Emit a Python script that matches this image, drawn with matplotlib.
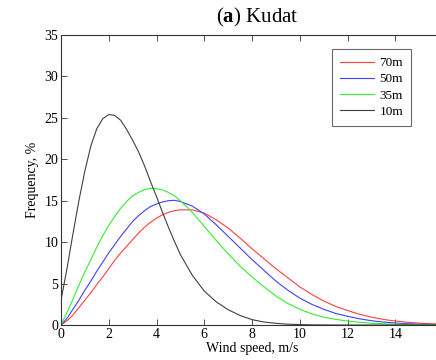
import matplotlib
matplotlib.use("Agg")
import matplotlib.pyplot as plt

plt.rcParams['font.family'] = ['Liberation Serif', 'DejaVu Serif']
plt.rcParams['mathtext.fontset'] = 'custom'
plt.rcParams['mathtext.rm'] = 'Liberation Serif'
plt.rcParams['mathtext.bf'] = 'Liberation Serif:bold'

wind_speed = [0, 0.25, 0.5, 0.75, 1, 1.25, 1.5, 1.75, 2, 2.25, 2.5, 2.75, 3, 3.25,
              3.5, 3.75, 4, 4.25, 4.5, 4.75, 5, 5.5, 6, 6.5, 7, 7.5, 8, 8.5, 9,
              9.5, 10, 10.5, 11, 11.5, 12, 12.5, 13, 13.5, 14, 14.5, 15, 15.5, 16]

freq_70m = [0, 0.5, 1.2, 2.1, 3.0, 3.9, 4.9, 5.8, 6.8, 7.8, 8.7, 9.5, 10.3, 11.1,
            11.8, 12.4, 12.9, 13.3, 13.6, 13.8, 13.9, 13.9, 13.5, 12.7, 11.7, 10.5,
            9.2, 8.0, 6.8, 5.7, 4.6, 3.7, 2.9, 2.25, 1.75, 1.3, 0.95, 0.68, 0.48,
            0.33, 0.22, 0.15, 0.1]
freq_50m = [0, 0.8, 1.9, 3.0, 4.2, 5.3, 6.5, 7.6, 8.7, 9.7, 10.7, 11.6, 12.5, 13.2,
            13.8, 14.3, 14.6, 14.85, 15.0, 15.05, 14.9, 14.35, 13.4, 12.1, 10.7, 9.3,
            7.9, 6.6, 5.3, 4.2, 3.25, 2.5, 1.9, 1.4, 1.05, 0.75, 0.52, 0.36, 0.24,
            0.16, 0.1, 0.06, 0.04]
freq_35m = [0, 1.5, 3.1, 4.8, 6.4, 7.9, 9.4, 10.8, 12.0, 13.1, 14.1, 14.9, 15.6, 16.0,
            16.35, 16.5, 16.45, 16.3, 16.0, 15.6, 15.0, 13.6, 11.9, 10.2, 8.6, 7.1,
            5.8, 4.6, 3.5, 2.6, 1.9, 1.35, 0.95, 0.68, 0.48, 0.33, 0.22, 0.15, 0.1,
            0.06, 0.04, 0.03, 0.02]
freq_10m = [3.0, 6.8, 11.0, 15.0, 18.6, 21.6, 23.7, 24.9, 25.4, 25.3, 24.7, 23.6, 22.3,
            20.9, 19.2, 17.3, 15.5, 13.6, 11.8, 10.1, 8.5, 6.0, 4.1, 2.8, 1.85, 1.15,
            0.65, 0.36, 0.2, 0.1, 0.05, 0.02, 0.01, 0, 0, 0, 0, 0, 0, 0, 0, 0, 0]

series_labels = ['70m', '50m', '35m', '10m']
series_colors = ['#ff4040', '#4040ff', '#30ee30', '#404040']

fig = plt.figure(figsize=(4.36, 3.6), dpi=100)
ax = fig.add_axes([61 / 436, 35 / 360, 382 / 436, 290 / 360])

for vals, lab, col in zip([freq_70m, freq_50m, freq_35m, freq_10m], series_labels, series_colors):
    ax.plot(wind_speed, vals, color=col, lw=0.8, label=lab)

ax.set_xlim(0, 16)
ax.set_ylim(0, 35)
ax.set_xticks(range(0, 15, 2))
ax.set_yticks(range(0, 36, 5))
ax.tick_params(direction='in', top=True, right=True, labelsize=10, length=4,
               width=0.6, color='#333333', pad=2)
for s in ax.spines.values():
    s.set_linewidth(0.8)
    s.set_color('#333333')

ax.set_xlabel('Wind speed, m/s', fontsize=10, labelpad=1)
ax.set_ylabel('Frequency, %', fontsize=10, labelpad=4)

fig.text(257 / 436, 1 - 17 / 360, r'($\mathbf{a}$) Kudat', ha='center', va='center',
         fontsize=15)

leg = ax.legend(loc='upper right', bbox_to_anchor=(411 / 436, 1 - 49 / 360),
                bbox_transform=fig.transFigure, borderaxespad=0, fancybox=False,
                edgecolor='#444444', fontsize=9.5, handlelength=2.6,
                labelspacing=0.3, borderpad=0.6, handletextpad=0.4)
leg.get_frame().set_linewidth(0.8)

fig.savefig('out.png', dpi=100)
